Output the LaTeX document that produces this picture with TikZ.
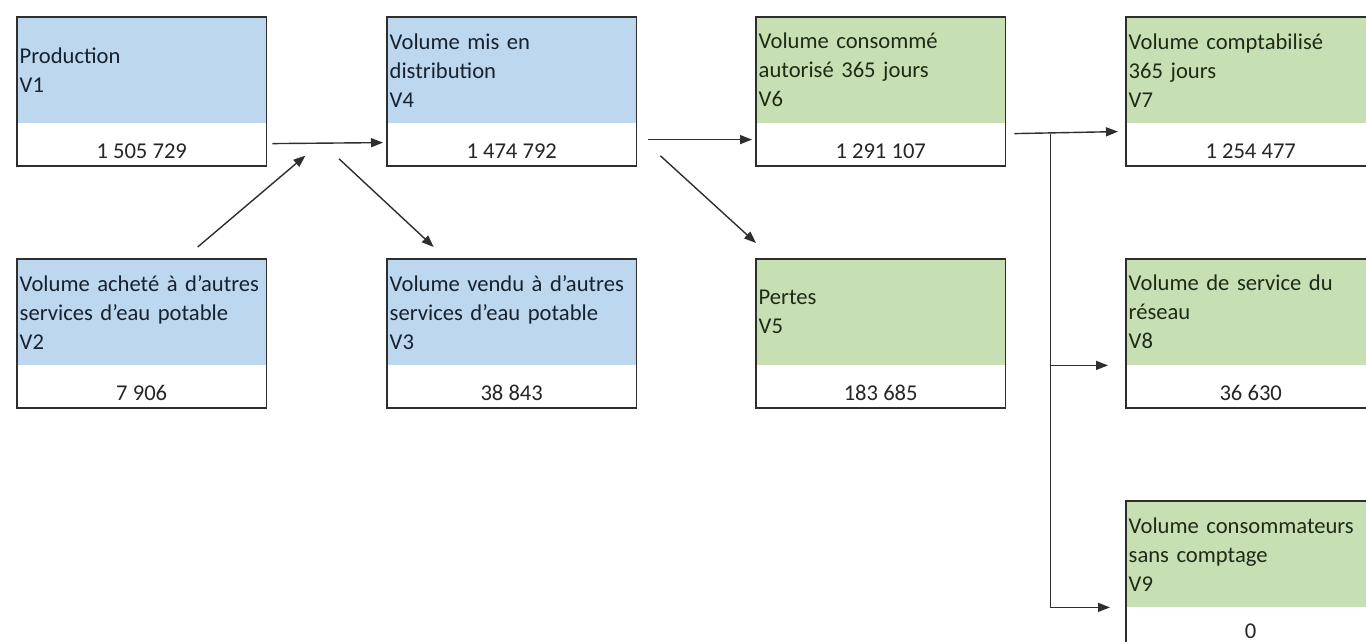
\documentclass[tikz,border=0pt]{standalone}
\usepackage{fontspec}
\setmainfont{Carlito}
\usepackage{xcolor}
\usepackage{tikz}
\usetikzlibrary{positioning,arrows.meta,fit,calc}
\definecolor{headblue}{HTML}{BDD7EE}
\definecolor{headgreen}{HTML}{C6E0B4}
\definecolor{inkblue}{HTML}{18222E}
\definecolor{inkgreen}{HTML}{1F2A17}
\definecolor{edge}{HTML}{2E2E2E}

\begin{document}
\begin{tikzpicture}[x=1pt,y=-1pt,
    font=\fontsize{22.6}{29}\selectfont,
    head/.style={anchor=north west,minimum width=249pt,minimum height=106pt,text width=244pt,inner xsep=2.5pt,inner ysep=0pt,align=left},
    bluehead/.style={head,fill=headblue,text=inkblue},
    greenhead/.style={head,fill=headgreen,text=inkgreen},
    val/.style={minimum width=249pt,minimum height=42pt,inner sep=0pt,text height=28pt,fill=white,text=black!85},
    frame/.style={draw=edge,line width=1.4pt,inner sep=0pt},
    arr/.style={-{Triangle[length=12pt,width=9pt]},line width=1.4pt,draw=edge}
  ]
  \useasboundingbox (0,0) rectangle (1366,642);
  \clip (0,0) rectangle (1366,642);

  % inflow side
  \node[bluehead] (v1) at (17,17) {Production\\V1};
  \node[val,below=0pt of v1] (v1v) {1 505 729};
  \node[frame,fit=(v1)(v1v)] {};

  \node[bluehead] (v2) at (17,259) {Volume acheté à d'autres\\services d'eau potable\\V2};
  \node[val,below=0pt of v2] (v2v) {7 906};
  \node[frame,fit=(v2)(v2v)] {};

  \node[bluehead] (v4) at (387,17) {Volume mis en\\distribution\\V4};
  \node[val,below=0pt of v4] (v4v) {1 474 792};
  \node[frame,fit=(v4)(v4v)] {};

  \node[bluehead] (v3) at (387,259) {Volume vendu à d'autres\\services d'eau potable\\V3};
  \node[val,below=0pt of v3] (v3v) {38 843};
  \node[frame,fit=(v3)(v3v)] {};

  % consumption side
  \node[greenhead] (v6) at (756,17) {Volume consommé\\autorisé 365 jours\\V6};
  \node[val,below=0pt of v6] (v6v) {1 291 107};
  \node[frame,fit=(v6)(v6v)] {};

  \node[greenhead] (v5) at (756,259) {Pertes\\V5};
  \node[val,below=0pt of v5] (v5v) {183 685};
  \node[frame,fit=(v5)(v5v)] {};

  \node[greenhead] (v7) at (1126,17) {Volume comptabilisé\\365 jours\\V7};
  \node[val,below=0pt of v7] (v7v) {1 254 477};
  \node[frame,fit=(v7)(v7v)] {};

  \node[greenhead] (v8) at (1126,259) {Volume de service du\\réseau\\V8};
  \node[val,below=0pt of v8] (v8v) {36 630};
  \node[frame,fit=(v8)(v8v)] {};

  \node[greenhead] (v9) at (1126,501) {Volume consommateurs\\sans comptage\\V9};
  \node[val,text height=20pt,below=0pt of v9] (v9v) {0};
  \node[frame,fit=(v9)(v9v)] {};

  % flows
  \draw[arr] ([xshift=6pt,yshift=1pt]v1v.east) -- ([xshift=-4pt,yshift=2pt]v4v.west);
  \draw[arr] ([xshift=56pt,yshift=12pt]v2.north) -- ([xshift=39pt,yshift=-11pt]v1v.east);
  \draw[arr] ([xshift=-48pt,yshift=7pt]v4v.south west) -- ([xshift=-78pt,yshift=12pt]v3.north);
  \draw[arr] ([xshift=12pt,yshift=5pt]v4v.east) -- ([xshift=-4pt,yshift=5pt]v6v.west);
  \draw[arr] ([xshift=24pt,yshift=10pt]v4v.south east) -- ([yshift=16pt]v5.north west);

  \coordinate (split) at ([xshift=45pt,yshift=11pt]v6v.east);
  \draw[arr] ([xshift=9pt,yshift=11pt]v6v.east) -- ([xshift=-8pt,yshift=13pt]v7v.west);
  \draw[arr] (split) |- ([xshift=-18pt]v8.south west);
  \draw[arr] (split) |- ([xshift=-16pt]v9.south west);
\end{tikzpicture}
\end{document}
